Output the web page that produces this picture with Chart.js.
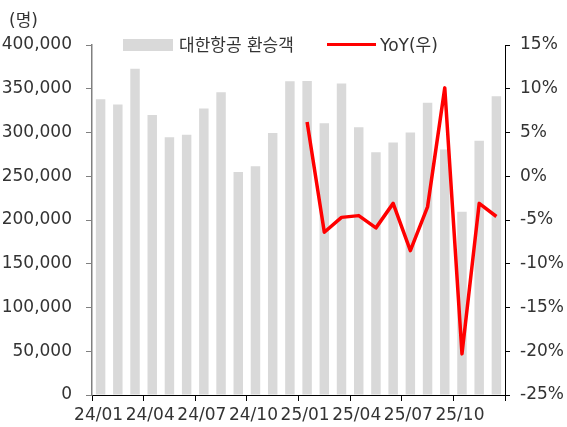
<!DOCTYPE html>
<html>
<head>
<meta charset="utf-8">
<script src="https://cdn.jsdelivr.net/npm/chart.js@4"></script>
<style>
  body { margin: 0; background: #fff; }
  #wrap { position: relative; width: 567px; height: 427px; }
  .txt { position: absolute; font: 17px 'DejaVu Sans', 'Noto Sans CJK KR', sans-serif; color: #333; line-height: 20px; white-space: nowrap; }
  .box { position: absolute; }
</style>
</head>
<body>
<div id="wrap">
  <canvas id="c" width="567" height="427"></canvas>
  <div class="txt" style="left:9px; top:10px;">(명)</div>
  <div class="box" style="left:123px; top:39px; width:50px; height:12px; background:#d9d9d9;"></div>
  <div class="txt" style="left:179px; top:35px;">대한항공 환승객</div>
  <div class="box" style="left:327px; top:43px; width:49px; height:3px; background:#ff0000;"></div>
  <div class="txt" style="left:380px; top:35px;">YoY(우)</div>
</div>
<script>
// 월별 라벨
var months = ['24/01','24/02','24/03','24/04','24/05','24/06','24/07','24/08','24/09','24/10','24/11','24/12',
              '25/01','25/02','25/03','25/04','25/05','25/06','25/07','25/08','25/09','25/10','25/11','25/12'];

// 대한항공 환승객 (명)
var transfer = [338000, 332000, 373000, 320000, 294500, 297500, 327500, 346000, 255000, 261500, 299500, 358500,
                359000, 310500, 356000, 306000, 277500, 288500, 300000, 334000, 280500, 209500, 290500, 341500];

// YoY (%) - 25/01 부터
var yoy = [null, null, null, null, null, null, null, null, null, null, null, null,
           6.2, -6.4, -4.7, -4.5, -5.9, -3.1, -8.5, -3.5, 10.1, -20.3, -3.1, -4.6];

var leftTicks = { min: 0, max: 400000, step: 50000 };
var rightTicks = { min: -25, max: 15, step: 5 };

Chart.defaults.font.family = "'DejaVu Sans', 'Noto Sans CJK KR', sans-serif";
Chart.defaults.font.size = 17;
Chart.defaults.color = '#333';

new Chart(document.getElementById('c'), {
  data: {
    labels: months,
    datasets: [
      {
        type: 'line',
        label: 'YoY(우)',
        data: yoy,
        yAxisID: 'y1',
        borderColor: '#ff0000',
        borderWidth: 3.5,
        borderJoinStyle: 'round',
        pointRadius: 0,
        tension: 0,
        order: 0
      },
      {
        type: 'bar',
        label: '대한항공 환승객',
        data: transfer,
        yAxisID: 'y',
        backgroundColor: '#d9d9d9',
        barPercentage: 0.55,
        categoryPercentage: 1,
        order: 1
      }
    ]
  },
  options: {
    responsive: false,
    animation: false,
    layout: { padding: { top: 45, left: 0, right: 0, bottom: 0 } },
    plugins: { legend: { display: false }, tooltip: { enabled: false } },
    scales: {
      x: {
        type: 'category',
        offset: true,
        afterFit: function(s) { s.height = 32; },
        border: { display: true, color: '#000', width: 1 },
        grid: {
          offset: true,
          drawOnChartArea: false,
          drawTicks: true,
          tickLength: 6,
          color: function(ctx) {
            return (ctx.index === undefined || ctx.index % 3 === 0) ? '#000' : 'rgba(0,0,0,0)';
          }
        },
        ticks: {
          autoSkip: false,
          maxRotation: 0,
          padding: 4,
          labelOffset: -2,
          callback: function(v, i) { return i % 3 === 0 ? this.getLabelForValue(v) : ''; }
        }
      },
      y: {
        position: 'left',
        min: leftTicks.min,
        max: leftTicks.max,
        afterFit: function(s) { s.width = 92; },
        border: { display: true, color: '#808080', width: 1.5 },
        grid: { drawOnChartArea: false, tickLength: 6, color: '#808080' },
        ticks: {
          stepSize: leftTicks.step,
          padding: 14,
          callback: function(v) { return v.toLocaleString('en-US'); }
        }
      },
      y1: {
        position: 'right',
        min: rightTicks.min,
        max: rightTicks.max,
        afterFit: function(s) { s.width = 62; },
        border: { display: true, color: '#000', width: 1 },
        grid: { drawOnChartArea: false, tickLength: 5, color: '#000' },
        ticks: {
          stepSize: rightTicks.step,
          padding: 10,
          callback: function(v) { return v + '%'; }
        }
      }
    }
  }
});
</script>
</body>
</html>
